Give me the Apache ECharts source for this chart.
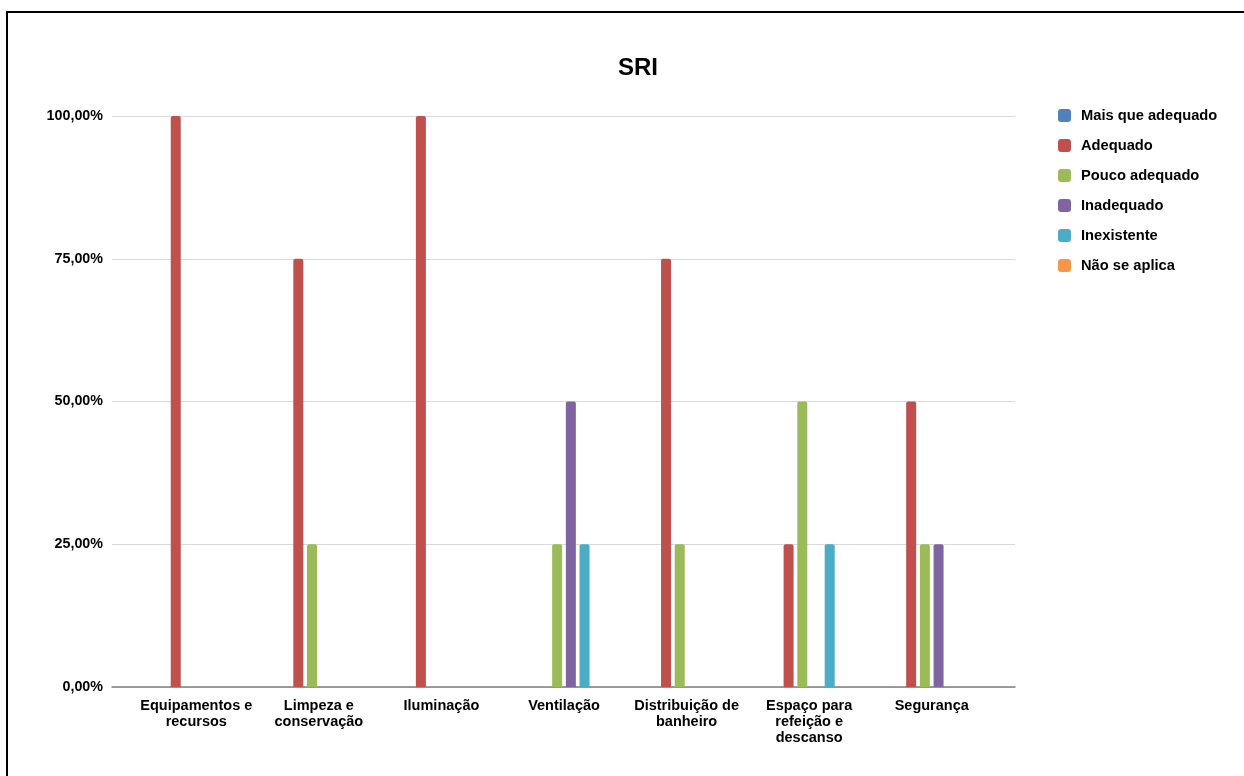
<!DOCTYPE html>
<html>
<head>
<meta charset="utf-8">
<script src="https://cdn.jsdelivr.net/npm/echarts@6/dist/echarts.min.js"></script>
<style>html,body{margin:0;padding:0;background:#fff;}#c{width:1244px;height:776px;}</style>
</head>
<body>
<div id="c"></div>
<script>
var categories = ["Equipamentos e\nrecursos", "Limpeza e\nconservação", "Iluminação", "Ventilação", "Distribuição de\nbanheiro", "Espaço para\nrefeição e\ndescanso", "Segurança"];
var seriesNames = ["Mais que adequado", "Adequado", "Pouco adequado", "Inadequado", "Inexistente", "Não se aplica"];
var maisQueAdequado = [0, 0, 0, 0, 0, 0, 0];
var adequado = [1.00, 0.75, 1.00, 0, 0.75, 0.25, 0.50];
var poucoAdequado = [0, 0.25, 0, 0.25, 0.25, 0.50, 0.25];
var inadequado = [0, 0, 0, 0.50, 0, 0, 0.25];
var inexistente = [0, 0, 0, 0.25, 0, 0.25, 0];
var naoSeAplica = [0, 0, 0, 0, 0, 0, 0];
var colors = ["#4F81BD", "#C0504D", "#9BBB59", "#8064A2", "#4BACC6", "#F79646"];
var allData = [maisQueAdequado, adequado, poucoAdequado, inadequado, inexistente, naoSeAplica];

var font = "'Liberation Sans', Arial, sans-serif";
var chart = echarts.init(document.getElementById('c'), null, {renderer: 'canvas'});
var series = seriesNames.map(function (n, i) {
  return {
    name: n, type: 'bar', xAxisIndex: 1, yAxisIndex: 1,
    data: allData[i], barWidth: 10, barGap: '37%',
    itemStyle: {color: colors[i], borderRadius: [2, 2, 0, 0]},
    emphasis: {disabled: true}
  };
});
chart.setOption({
  animation: false,
  backgroundColor: '#fff',
  color: colors,
  graphic: [{
    type: 'rect', silent: true,
    shape: {x: 7, y: 12, width: 1250, height: 780},
    style: {fill: 'none', stroke: '#000', lineWidth: 2}
  }],
  title: {
    text: 'SRI', left: 633, top: 51, textAlign: 'center',
    textStyle: {fontFamily: font, fontSize: 24, fontWeight: 'bold', color: '#000'}
  },
  legend: {
    orient: 'vertical', left: 1053, top: 103,
    itemWidth: 13, itemHeight: 13, itemGap: 15,
    icon: 'roundRect',
    textStyle: {fontFamily: font, fontSize: 14.7, fontWeight: 'bold', color: '#000', padding: [0, 0, 0, 5]},
    data: seriesNames
  },
  grid: [
    {left: 112, right: 229, top: 116, bottom: 89},
    {left: 135, right: 251, top: 116, bottom: 89}
  ],
  xAxis: [
    {type: 'category', gridIndex: 0, data: categories,
     axisLine: {lineStyle: {color: '#7f7f7f', width: 1.5}}, axisTick: {show: false}, axisLabel: {show: false}},
    {type: 'category', gridIndex: 1, data: categories,
     axisLine: {show: false}, axisTick: {show: false},
     axisLabel: {interval: 0, margin: 11, fontFamily: font, fontSize: 14.5, fontWeight: 'bold', color: '#000', lineHeight: 16}}
  ],
  yAxis: [
    {type: 'value', gridIndex: 0, min: 0, max: 1, interval: 0.25,
     axisLine: {show: false}, axisTick: {show: false},
     splitLine: {lineStyle: {color: '#d9d9d9', width: 1}},
     axisLabel: {margin: 9, fontFamily: font, fontSize: 14.3, fontWeight: 'bold', color: '#000',
       formatter: function (v) { return (v * 100).toFixed(2).replace('.', ',') + '%'; }}},
    {type: 'value', gridIndex: 1, min: 0, max: 1, interval: 0.25, show: false, splitLine: {show: false}}
  ],
  series: series
});
</script>
</body>
</html>
